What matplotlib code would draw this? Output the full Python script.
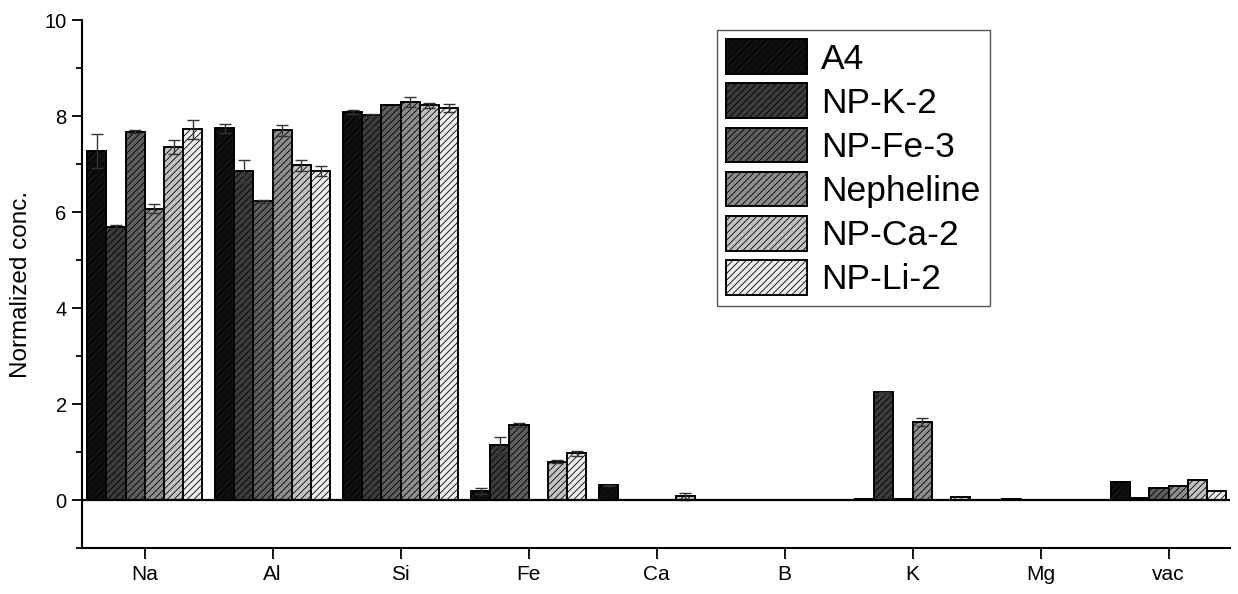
import numpy as np
import matplotlib
matplotlib.use("Agg")
import matplotlib.pyplot as plt

plt.rcParams['font.family'] = ['Liberation Sans', 'DejaVu Sans']
plt.rcParams['hatch.linewidth'] = 0.6

elements = ["Na", "Al", "Si", "Fe", "Ca", "B", "K", "Mg", "vac"]
samples = ["A4", "NP-K-2", "NP-Fe-3", "Nepheline", "NP-Ca-2", "NP-Li-2"]

A4 = [7.27, 7.74, 8.08, 0.19, 0.31, 0.0, 0.03, 0.0, 0.37]
NP_K_2 = [5.69, 6.85, 8.03, 1.14, 0.0, 0.0, 2.24, 0.02, 0.04]
NP_Fe_3 = [7.67, 6.22, 8.23, 1.56, 0.0, 0.0, 0.03, 0.0, 0.24]
Nepheline = [6.07, 7.70, 8.29, 0.0, 0.0, 0.0, 1.62, 0.0, 0.30]
NP_Ca_2 = [7.35, 6.97, 8.22, 0.80, 0.08, 0.0, 0.0, 0.01, 0.42]
NP_Li_2 = [7.72, 6.86, 8.17, 0.97, 0.0, 0.0, 0.06, 0.0, 0.19]

A4_err = [0.35, 0.09, 0.04, 0.07, 0.01, 0.0, 0.0, 0.0, 0.0]
NP_K_2_err = [0.03, 0.24, 0.02, 0.18, 0.0, 0.0, 0.01, 0.0, 0.0]
NP_Fe_3_err = [0.03, 0.04, 0.0, 0.04, 0.0, 0.0, 0.0, 0.0, 0.0]
Nepheline_err = [0.09, 0.11, 0.11, 0.0, 0.0, 0.0, 0.08, 0.0, 0.0]
NP_Ca_2_err = [0.15, 0.11, 0.06, 0.03, 0.07, 0.0, 0.0, 0.0, 0.0]
NP_Li_2_err = [0.19, 0.10, 0.08, 0.05, 0.0, 0.0, 0.0, 0.0, 0.0]

series = [A4, NP_K_2, NP_Fe_3, Nepheline, NP_Ca_2, NP_Li_2]
errors = [A4_err, NP_K_2_err, NP_Fe_3_err, Nepheline_err, NP_Ca_2_err, NP_Li_2_err]
colors = ["#111111", "#3c3c3c", "#5e5e5e", "#8e8e8e", "#c2c2c2", "#ededed"]

fig = plt.figure(figsize=(12.38, 5.94), dpi=100)
ax = fig.add_axes([82/1238, 1-548/594, (1230-82)/1238, (548-20)/594])

x = np.arange(len(elements))
w = 0.15
for i, (vals, errs, c, lab) in enumerate(zip(series, errors, colors, samples)):
    pos = x + (i - 2.5) * w
    ax.bar(pos, vals, width=w, color=c, edgecolor="black", linewidth=1.4,
           hatch="/////", label=lab, zorder=2)
    ev = np.array(errs)
    mask = ev > 0
    ax.errorbar(pos[mask], np.array(vals)[mask], yerr=ev[mask], fmt="none",
                ecolor="#333333", elinewidth=1.0, capsize=4, capthick=1.0, zorder=3)

ax.axhline(0, color="black", linewidth=1.6, zorder=4)

ax.set_xlim(-0.49, 8.48)
ax.set_ylim(-1, 10)
ax.set_xticks(x)
ax.set_xticklabels(elements, fontsize=15)
ax.set_yticks([0, 2, 4, 6, 8, 10])
ax.set_yticks([-1, 1, 3, 5, 7, 9], minor=True)
ax.tick_params(axis="y", which="major", labelsize=14.5, length=7, width=1.3, pad=4)
ax.tick_params(axis="y", which="minor", length=4, width=1.3)
ax.tick_params(axis="x", which="major", length=8, width=1.3, pad=4)
ax.set_ylabel("Normalized conc.", fontsize=17.5, labelpad=9)
for s in ["top", "right"]:
    ax.spines[s].set_visible(False)
for s in ["left", "bottom"]:
    ax.spines[s].set_linewidth(1.5)

leg = ax.legend(loc="upper left", bbox_to_anchor=(0.553, 0.981), fontsize=25.5,
                fancybox=False, edgecolor="#555555", framealpha=1,
                handlelength=2.28, handleheight=1.13, labelspacing=0.22,
                handletextpad=0.4, borderpad=0.26, borderaxespad=0)
leg.get_frame().set_linewidth(1.0)

fig.savefig("out.png", dpi=100, facecolor="white")
